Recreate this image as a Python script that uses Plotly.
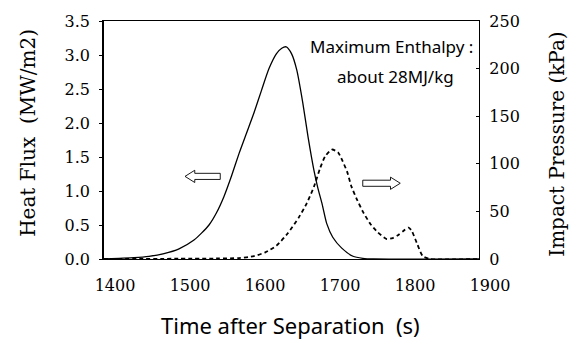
import plotly.graph_objects as go

# Heat flux (MW/m2) vs time after separation (s)
hf_time = [1400, 1420, 1440, 1460, 1480, 1500, 1520, 1530, 1540, 1550, 1560, 1570, 1580,
           1590, 1600, 1610, 1620, 1630, 1637, 1643, 1650, 1657, 1665, 1672, 1680, 1685,
           1691, 1697, 1705, 1717, 1732, 1745, 1760, 1900]
hf_val = [0.0, 0.01, 0.02, 0.04, 0.08, 0.15, 0.28, 0.38, 0.5, 0.68, 0.92, 1.22, 1.55,
          1.85, 2.15, 2.48, 2.8, 3.02, 3.1, 3.12, 3.02, 2.78, 2.3, 1.8, 1.3, 1.05,
          0.8, 0.52, 0.32, 0.16, 0.04, 0.01, 0.0, 0.0]

# Impact pressure (kPa)
ip_time = [1400, 1550, 1580, 1600, 1615, 1630, 1645, 1660, 1670, 1680, 1688, 1695, 1704,
           1712, 1718, 1724, 1730, 1737, 1745, 1755, 1765, 1777, 1785, 1792, 1800, 1806,
           1810, 1817, 1825, 1835, 1900]
ip_val = [0, 0.5, 1, 3, 7, 14, 27, 44, 58, 76, 95, 108, 115,
          112, 103, 92, 76, 63, 50, 37, 28, 21, 22, 25, 30, 33,
          30, 17, 3, 0, 0]

x_ticks = [1400, 1500, 1600, 1700, 1800, 1900]
y1_ticks = [0.0, 0.5, 1.0, 1.5, 2.0, 2.5, 3.0, 3.5]
y2_ticks = [0, 50, 100, 150, 200, 250]

serif = "DejaVu Serif"
sans = "Noto Sans"

fig = go.Figure()
fig.add_trace(go.Scatter(x=hf_time, y=hf_val, mode="lines", line=dict(color="black", width=1.3, shape="spline", smoothing=0.6),
                         showlegend=False, yaxis="y"))
fig.add_trace(go.Scatter(x=ip_time, y=ip_val, mode="lines", line=dict(color="black", width=1.8, dash="4px,3px", shape="spline", smoothing=0.6),
                         showlegend=False, yaxis="y2"))

def block_arrow(x0, x1, yc, sh, hh, head, direction):
    if direction == "left":
        xh = x0 + head
        return (f"M {x0},{yc} L {xh},{yc+hh} L {xh},{yc+sh} L {x1},{yc+sh} "
                f"L {x1},{yc-sh} L {xh},{yc-sh} L {xh},{yc-hh} Z")
    xh = x1 - head
    return (f"M {x1},{yc} L {xh},{yc+hh} L {xh},{yc+sh} L {x0},{yc+sh} "
            f"L {x0},{yc-sh} L {xh},{yc-sh} L {xh},{yc-hh} Z")

shapes = [
    dict(type="path", xref="x", yref="y", path=block_arrow(1508, 1555, 1.215, 0.045, 0.09, 13, "left"),
         line=dict(color="black", width=0.9), fillcolor="white"),
    dict(type="path", xref="x", yref="y", path=block_arrow(1745, 1795, 1.114, 0.045, 0.09, 13, "right"),
         line=dict(color="black", width=0.9), fillcolor="white"),
]

annotations = [
    dict(text="Maximum Enthalpy :", x=0.988, y=0.8926, xref="paper", yref="paper", xanchor="right", yanchor="middle",
         showarrow=False, font=dict(family=sans, size=17, color="black")),
    dict(text="about 28MJ/kg", x=0.938, y=0.7686, xref="paper", yref="paper", xanchor="right", yanchor="middle",
         showarrow=False, font=dict(family=sans, size=17, color="black")),
    dict(text="Heat Flux  (MW/m2)", x=-0.2027, y=0.53, xref="paper", yref="paper", xanchor="center", yanchor="middle",
         textangle=-90, showarrow=False, font=dict(family=serif, size=20, color="black")),
    dict(text="Impact Pressure (kPa)", x=1.208, y=0.48, xref="paper", yref="paper", xanchor="center", yanchor="middle",
         textangle=-90, showarrow=False, font=dict(family=serif, size=20, color="black")),
    dict(text="Time after Separation  (s)", x=0.496, y=-0.277, xref="paper", yref="paper", xanchor="center", yanchor="middle",
         showarrow=False, font=dict(family=sans, size=22, color="black")),
]

fig.update_layout(
    width=581, height=344,
    margin=dict(l=104, r=102, t=17, b=85),
    paper_bgcolor="white", plot_bgcolor="white",
    font=dict(family=serif, color="black"),
    shapes=shapes, annotations=annotations,
    xaxis=dict(range=[1400, 1900], tickvals=x_ticks, ticktext=[str(v) for v in x_ticks],
               showgrid=False, zeroline=False, showline=True, linecolor="black", linewidth=1.3, mirror=True,
               ticks="", ticklabelshift=11, ticklabelstandoff=12,
               tickfont=dict(family=serif, size=16, color="black")),
    yaxis=dict(range=[0, 3.5], tickvals=y1_ticks, ticktext=[f"{v:.1f}" for v in y1_ticks],
               showgrid=False, zeroline=False, showline=True, linecolor="black", linewidth=1.5,
               ticks="outside", ticklen=3, tickcolor="black", ticklabelstandoff=6,
               tickfont=dict(family=serif, size=16, color="black")),
    yaxis2=dict(range=[0, 250], tickvals=y2_ticks, ticktext=[str(v) for v in y2_ticks], overlaying="y", side="right",
                showgrid=False, zeroline=False, showline=True, linecolor="black", linewidth=1.3,
                ticks="inside", ticklen=3, tickcolor="black", ticklabelstandoff=6,
                tickfont=dict(family=serif, size=16, color="black")),
)

fig.write_html("out.html")
